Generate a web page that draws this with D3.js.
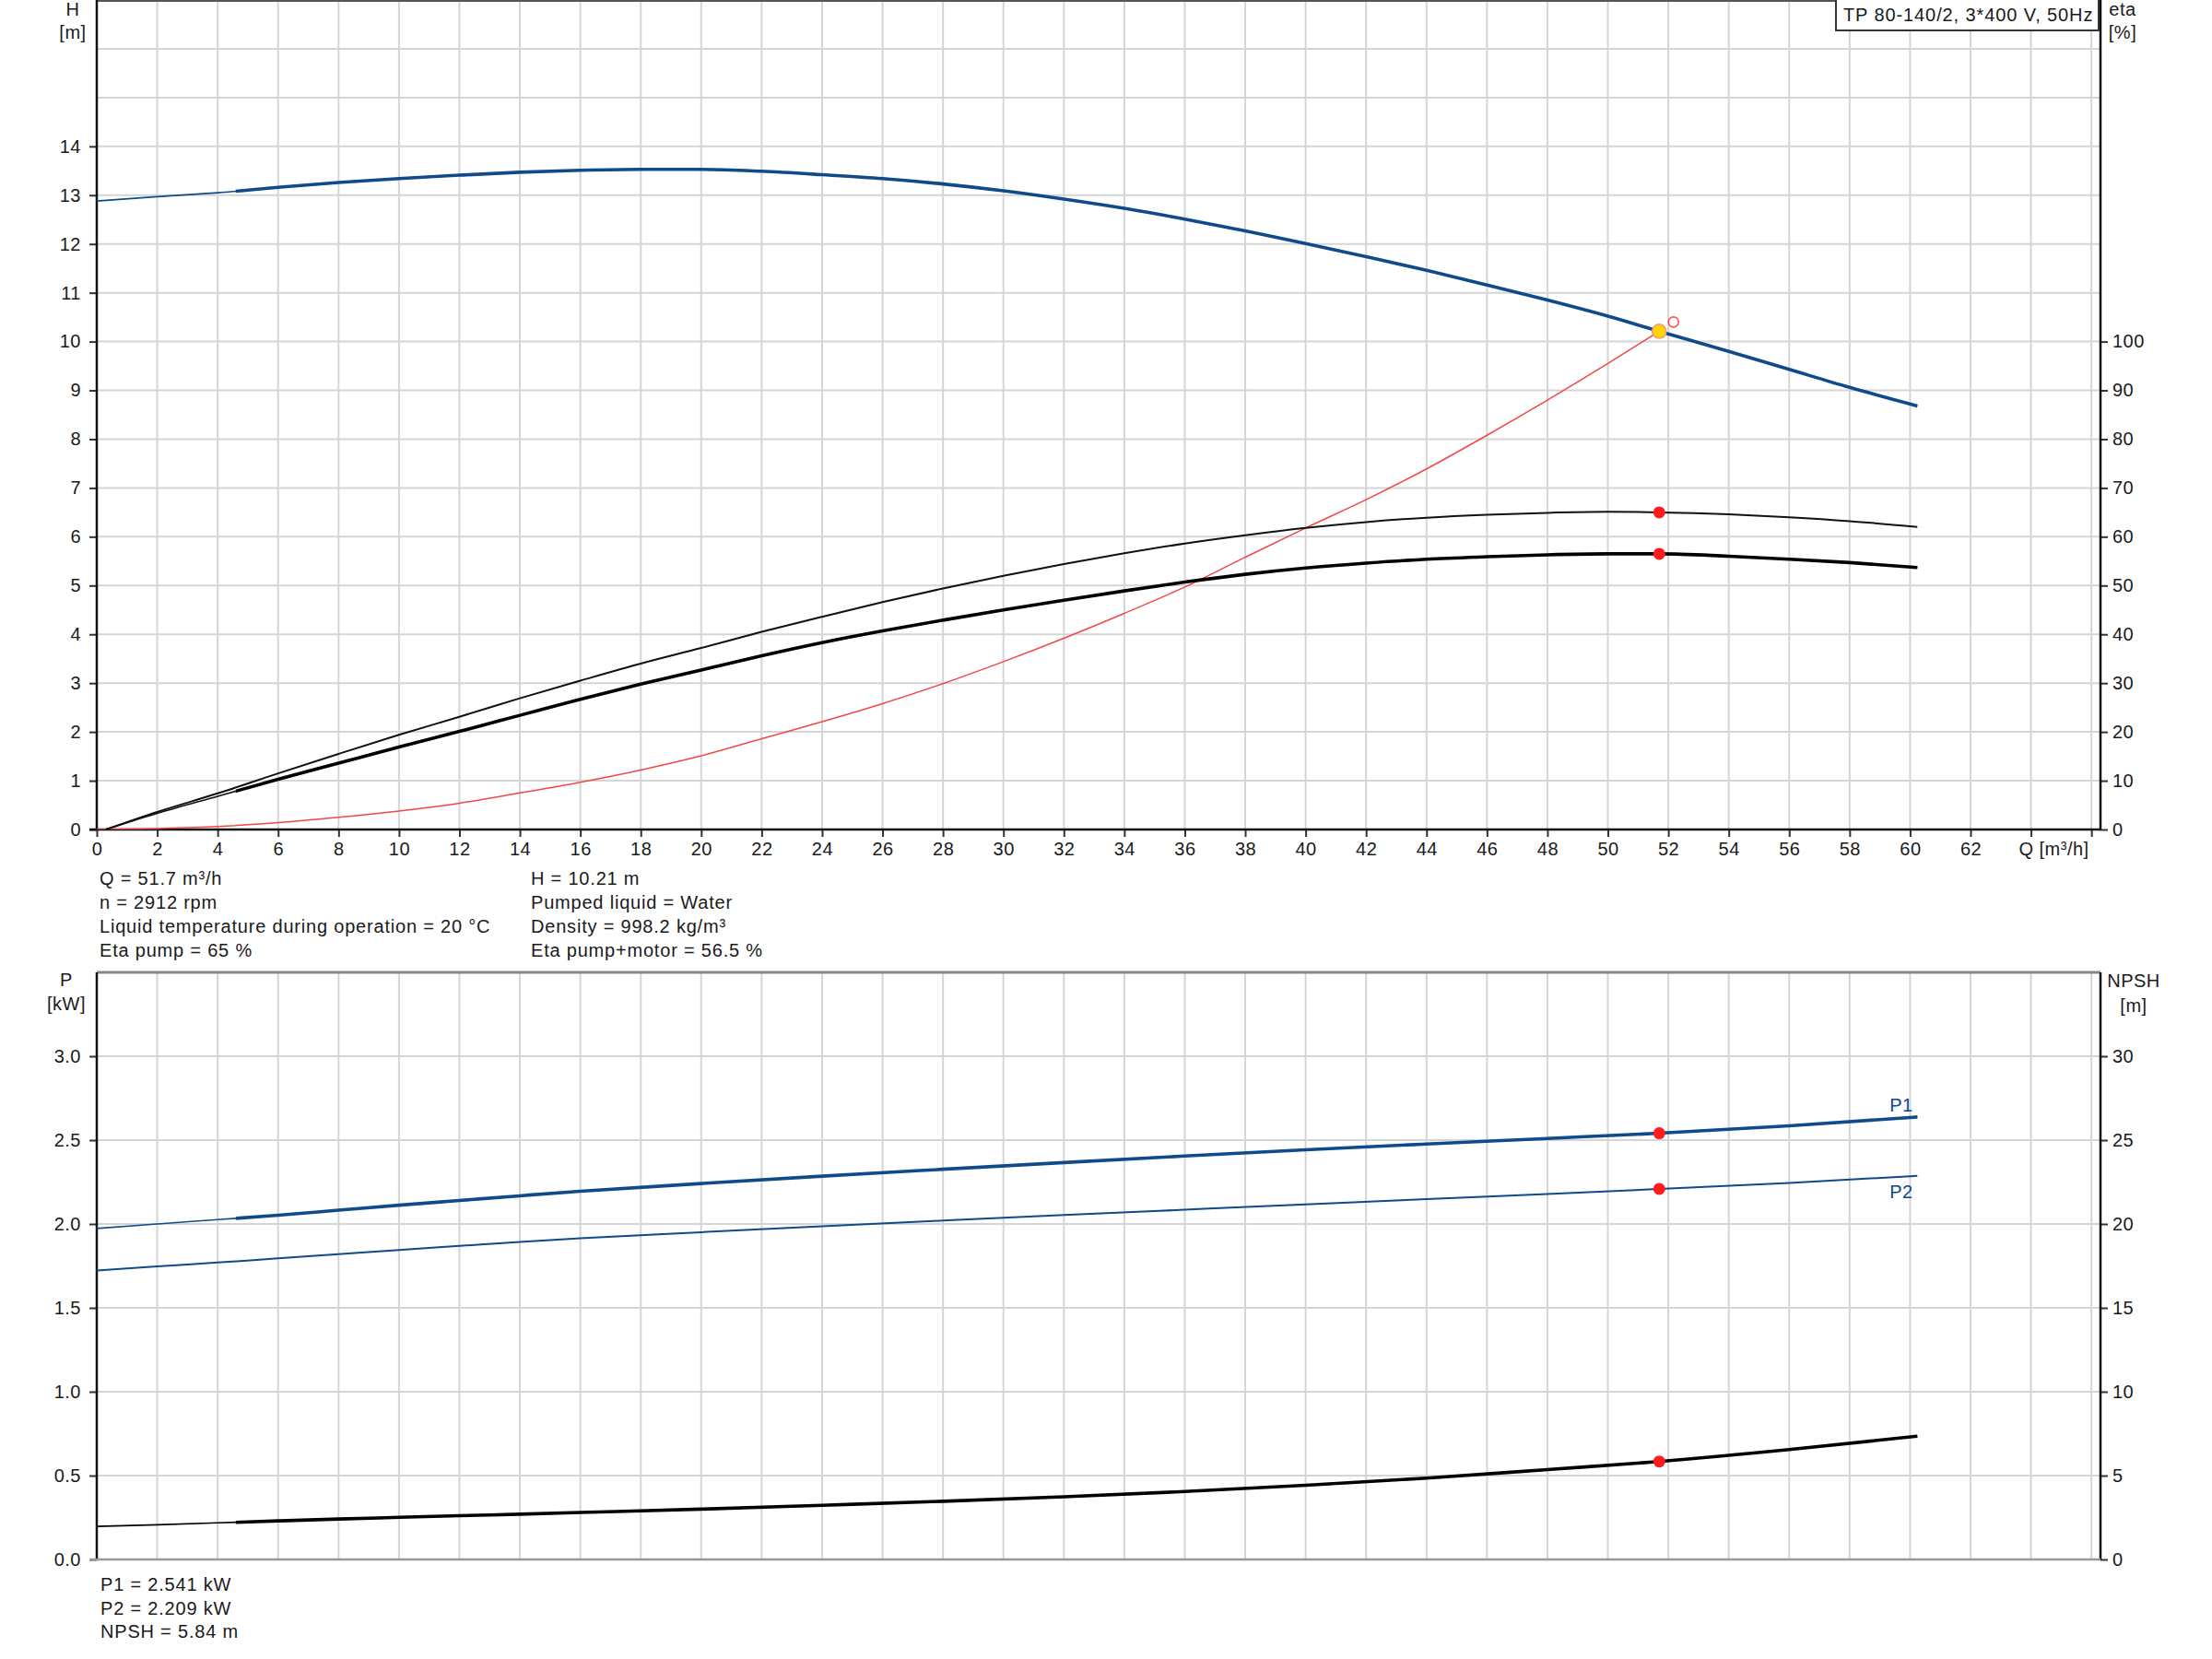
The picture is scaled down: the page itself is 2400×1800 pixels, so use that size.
<!DOCTYPE html>
<html><head><meta charset="utf-8">
<script src="https://cdn.jsdelivr.net/npm/d3@7"></script>
<style>
html,body{margin:0;padding:0;background:#fff;}
svg{display:block;}
text{font-family:"Liberation Sans",Arial,sans-serif;fill:#1a1a1a;font-size:20px;letter-spacing:0.5px;}
</style></head><body>
<svg id="c" width="2400" height="1800"></svg>
<script>
// ---------- data ----------
const qH      = [0, 2, 4, 6, 8, 10, 12, 14, 16, 18, 20, 22, 24, 26, 28, 30, 32, 34, 36, 38, 40, 42, 44, 46, 48, 50, 51.7, 54, 56, 58, 60.24];
const headH   = [12.88, 12.97, 13.05, 13.16, 13.26, 13.34, 13.41, 13.47, 13.51, 13.53, 13.53, 13.49, 13.42, 13.34, 13.23, 13.09, 12.92, 12.73, 12.51, 12.27, 12.01, 11.74, 11.46, 11.16, 10.85, 10.52, 10.21, 9.80, 9.43, 9.06, 8.68];

const qEta     = [0.3, 2, 4, 6, 8, 10, 12, 14, 16, 18, 20, 22, 24, 26, 28, 30, 32, 34, 36, 38, 40, 42, 44, 46, 48, 50, 51.7, 54, 56, 58, 60.24];
const etaPump  = [0, 3.6, 7.4, 11.5, 15.5, 19.4, 23.1, 26.9, 30.5, 34.0, 37.2, 40.5, 43.6, 46.6, 49.4, 52.0, 54.4, 56.6, 58.6, 60.3, 61.8, 63.0, 63.9, 64.5, 64.9, 65.1, 65.0, 64.6, 64.0, 63.2, 62.0];
const etaTotal = [0, 3.3, 6.8, 10.3, 13.6, 16.9, 20.1, 23.4, 26.7, 29.8, 32.7, 35.6, 38.3, 40.7, 42.9, 45.0, 47.0, 48.9, 50.7, 52.3, 53.6, 54.6, 55.4, 55.9, 56.3, 56.5, 56.5, 56.0, 55.4, 54.7, 53.7];

const qSys  = [0, 2, 4, 6, 8, 10, 12, 14, 16, 18, 20, 22, 24, 26, 28, 30, 32, 34, 36, 38, 40, 42, 44, 46, 48, 50, 51.7];
const sysH  = [0, 0.02, 0.06, 0.14, 0.25, 0.38, 0.54, 0.75, 0.97, 1.22, 1.51, 1.86, 2.21, 2.58, 2.99, 3.44, 3.92, 4.43, 4.97, 5.58, 6.18, 6.76, 7.39, 8.08, 8.80, 9.55, 10.21];

const qP   = [0, 2, 4, 6, 8, 10, 12, 14, 16, 20, 24, 28, 32, 36, 40, 44, 48, 51.7, 56, 60.24];
const p1   = [1.973, 2.0, 2.026, 2.052, 2.082, 2.112, 2.14, 2.168, 2.195, 2.241, 2.285, 2.326, 2.366, 2.405, 2.442, 2.477, 2.51, 2.541, 2.585, 2.638];
const p2   = [1.722, 1.747, 1.77, 1.795, 1.82, 1.845, 1.869, 1.893, 1.915, 1.951, 1.986, 2.020, 2.053, 2.085, 2.117, 2.148, 2.179, 2.209, 2.245, 2.287];
const npsh = [1.97, 2.07, 2.18, 2.30, 2.41, 2.51, 2.61, 2.70, 2.80, 3.00, 3.23, 3.47, 3.74, 4.05, 4.42, 4.85, 5.36, 5.84, 6.55, 7.35];

const dutyQ = 51.7, dutyH = 10.21, dutyEtaPump = 65, dutyEtaTotal = 56.5;
const dutyP1 = 2.541, dutyP2 = 2.209, dutyNPSH = 5.84;
const reqQ = 52.17, reqH = 10.40;
const minFlowQ = 4.6;

const qTickVals   = d3.range(0, 67, 2);
const qLabelMax   = 62;
const hTickVals   = d3.range(0, 15, 1);
const hGridVals   = d3.range(1, 17, 1);
const etaTickVals = d3.range(0, 101, 10);
const pTickVals   = [0, 0.5, 1.0, 1.5, 2.0, 2.5, 3.0];
const nTickVals   = [0, 5, 10, 15, 20, 25, 30];

const titleText = "TP 80-140/2, 3*400 V, 50Hz";
const infoLeft  = ["Q = 51.7 m\u00B3/h", "n = 2912 rpm", "Liquid temperature during operation = 20 \u00B0C", "Eta pump = 65 %"];
const infoRight = ["H = 10.21 m", "Pumped liquid = Water", "Density = 998.2 kg/m\u00B3", "Eta pump+motor = 56.5 %"];
const infoBottom = ["P1 = 2.541 kW", "P2 = 2.209 kW", "NPSH = 5.84 m"];

// ---------- scales ----------
const svg = d3.select("#c");
const L = 105, R = 2279;
const top1 = 0, bot1 = 900, top2 = 1055, bot2 = 1692;
const x    = d3.scaleLinear().domain([0, 66.3]).range([L, R]);
const yH   = d3.scaleLinear().domain([0, 17]).range([bot1, top1]);
const yEta = d3.scaleLinear().domain([0, 170]).range([bot1, top1]);
const yP   = d3.scaleLinear().domain([0, 3.5]).range([bot2, top2]);
const yN   = d3.scaleLinear().domain([0, 35]).range([bot2, top2]);

const BLUE = "#0f4a8a", GRID = "#d5d5d5";

const defs = svg.append("defs");
function clip(id, x0, y0, x1, y1) {
  defs.append("clipPath").attr("id", id).append("rect")
    .attr("x", x0).attr("y", y0).attr("width", x1 - x0).attr("height", y1 - y0);
}
clip("c1", L, top1, R, bot1);
clip("c2", L, top2, R, bot2);
clip("c1t", x(minFlowQ), top1, R, bot1);
clip("c2t", x(minFlowQ), top2, R, bot2);

// ---------- grids ----------
function grid(y0, y1, hVals, yS) {
  const g = svg.append("g").attr("stroke", GRID).attr("stroke-width", 2);
  g.selectAll("line.v").data(qTickVals.filter(d => d > 0)).join("line")
    .attr("x1", d => x(d)).attr("x2", d => x(d)).attr("y1", y0).attr("y2", y1);
  g.selectAll("line.h").data(hVals).join("line")
    .attr("x1", L).attr("x2", R).attr("y1", d => yS(d)).attr("y2", d => yS(d));
}
grid(top1, bot1, hGridVals, yH);
grid(top2, bot2, [0.5, 1.0, 1.5, 2.0, 2.5, 3.0], yP);

// ---------- axes ----------
function styleAxis(g) {
  g.select(".domain").remove();
  g.selectAll(".tick line").attr("stroke", "#333").attr("stroke-width", 2);
  g.selectAll(".tick text").attr("fill", "#1a1a1a").style("font-size", "20px")
    .attr("font-family", null);
}
svg.append("g").attr("transform", `translate(${L},0)`)
  .call(d3.axisLeft(yH).tickValues(hTickVals).tickSize(8).tickPadding(9).tickFormat(d3.format("d")))
  .call(styleAxis);
svg.append("g").attr("transform", `translate(${R},0)`)
  .call(d3.axisRight(yEta).tickValues(etaTickVals).tickSize(8).tickPadding(5).tickFormat(d3.format("d")))
  .call(styleAxis);
svg.append("g").attr("transform", `translate(0,${bot1})`)
  .call(d3.axisBottom(x).tickValues(qTickVals).tickSize(8).tickPadding(6)
    .tickFormat(d => d <= qLabelMax ? d3.format("d")(d) : ""))
  .call(styleAxis);
svg.append("g").attr("transform", `translate(${L},0)`)
  .call(d3.axisLeft(yP).tickValues(pTickVals).tickSize(8).tickPadding(9).tickFormat(d3.format(".1f")))
  .call(styleAxis);
svg.append("g").attr("transform", `translate(${R},0)`)
  .call(d3.axisRight(yN).tickValues(nTickVals).tickSize(8).tickPadding(5).tickFormat(d3.format("d")))
  .call(styleAxis);

// frame lines
const fr = svg.append("g");
fr.append("line").attr("x1", L).attr("x2", R).attr("y1", 1).attr("y2", 1).attr("stroke", "#555").attr("stroke-width", 2);
fr.append("line").attr("x1", L).attr("x2", L).attr("y1", top1).attr("y2", bot1).attr("stroke", "#111").attr("stroke-width", 2.5);
fr.append("line").attr("x1", R).attr("x2", R).attr("y1", top1).attr("y2", bot1).attr("stroke", "#111").attr("stroke-width", 2.5);
fr.append("line").attr("x1", L - 8).attr("x2", R).attr("y1", bot1).attr("y2", bot1).attr("stroke", "#111").attr("stroke-width", 2.5);
fr.append("line").attr("x1", L).attr("x2", R).attr("y1", top2).attr("y2", top2).attr("stroke", "#888").attr("stroke-width", 3);
fr.append("line").attr("x1", L).attr("x2", L).attr("y1", top2).attr("y2", bot2).attr("stroke", "#111").attr("stroke-width", 2.5);
fr.append("line").attr("x1", R).attr("x2", R).attr("y1", top2).attr("y2", bot2).attr("stroke", "#111").attr("stroke-width", 2.5);
fr.append("line").attr("x1", L - 8).attr("x2", R).attr("y1", bot2).attr("y2", bot2).attr("stroke", "#999").attr("stroke-width", 2.5);

// ---------- curves ----------
function curve(qs, vs, yS, color, w, clipId) {
  const pts = qs.map((q, i) => [q, vs[i]]);
  const line = d3.line().x(d => x(d[0])).y(d => yS(d[1])).curve(d3.curveMonotoneX);
  svg.append("path").attr("d", line(pts)).attr("fill", "none")
    .attr("stroke", color).attr("stroke-width", w)
    .attr("stroke-linejoin", "round").attr("stroke-linecap", "butt")
    .attr("clip-path", `url(#${clipId})`);
}
// top chart
curve(qSys, sysH, yH, "#f04848", 1.5, "c1");
curve(qEta, etaPump, yEta, "#111", 2, "c1");
curve(qEta, etaTotal, yEta, "#111", 1.6, "c1");
curve(qEta, etaTotal, yEta, "#000", 3.6, "c1t");
curve(qH, headH, yH, BLUE, 1.6, "c1");
curve(qH, headH, yH, BLUE, 3.6, "c1t");
// bottom chart
curve(qP, p2, yP, BLUE, 2, "c2");
curve(qP, p1, yP, BLUE, 1.6, "c2");
curve(qP, p1, yP, BLUE, 3.6, "c2t");
curve(qP, npsh, yN, "#000", 1.6, "c2");
curve(qP, npsh, yN, "#000", 3.6, "c2t");

// ---------- duty point markers ----------
const dots = [[dutyQ, yEta(dutyEtaPump)], [dutyQ, yEta(dutyEtaTotal)],
              [dutyQ, yP(dutyP1)], [dutyQ, yP(dutyP2)], [dutyQ, yN(dutyNPSH)]];
svg.append("g").selectAll("circle").data(dots).join("circle")
  .attr("cx", d => x(d[0])).attr("cy", d => d[1]).attr("r", 6.5).attr("fill", "#ff1c1c");
svg.append("circle").attr("cx", x(reqQ)).attr("cy", yH(reqH)).attr("r", 5.5)
  .attr("fill", "#fff").attr("stroke", "#ff5050").attr("stroke-width", 1.6);
svg.append("circle").attr("cx", x(dutyQ)).attr("cy", yH(dutyH)).attr("r", 7.5)
  .attr("fill", "#ffd400").attr("stroke", "#f3a070").attr("stroke-width", 1.8);

// ---------- curve labels ----------
svg.append("text").attr("x", x(60.24) - 30).attr("y", yP(p1[p1.length - 1]) - 6)
  .style("fill", BLUE).text("P1");
svg.append("text").attr("x", x(60.24) - 30).attr("y", yP(p2[p2.length - 1]) + 24)
  .style("fill", BLUE).text("P2");

// ---------- axis titles ----------
function t(xp, yp, s, anchor) {
  return svg.append("text").attr("x", xp).attr("y", yp).attr("text-anchor", anchor || "start").text(s);
}
t(79, 17, "H", "middle");
t(79, 42, "[m]", "middle");
t(2303, 17, "eta", "middle");
t(2303, 42, "[%]", "middle");
t(x(63.6), 928, "Q [m\u00B3/h]", "start");
t(72, 1070, "P", "middle");
t(72, 1096, "[kW]", "middle");
t(2315, 1071, "NPSH", "middle");
t(2315, 1098, "[m]", "middle");

// title box
svg.append("rect").attr("x", 1992).attr("y", -2).attr("width", 285).attr("height", 35)
  .attr("fill", "#fff").attr("stroke", "#333").attr("stroke-width", 2);
t(2000, 23, titleText).style("letter-spacing", "0.9px");

// info texts
infoLeft.forEach((s, i) => t(108, 960 + i * 26, s).style("letter-spacing", "0.8px"));
infoRight.forEach((s, i) => t(576, 960 + i * 26, s).style("letter-spacing", "0.8px"));
infoBottom.forEach((s, i) => t(109, 1726 + i * 25.5, s).style("letter-spacing", "0.8px"));
</script>
</body></html>
